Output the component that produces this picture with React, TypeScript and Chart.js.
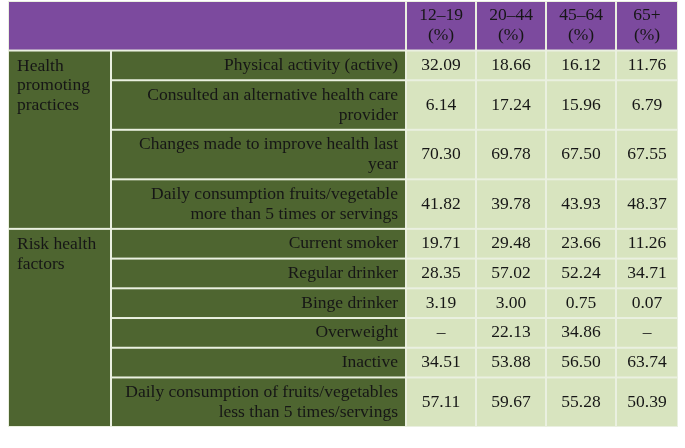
import React, { useEffect, useRef } from 'react';
import { Chart, registerables } from 'chart.js';

Chart.register(...registerables);

// ---- data ----
const ageGroups = ['12–19', '20–44', '45–64', '65+'];
const unitLabel = '(%)';
const groupLabels = ['Health\npromoting\npractices', 'Risk health\nfactors'];
const itemLabels = [
  'Physical activity (active)',
  'Consulted an alternative health care\nprovider',
  'Changes made to improve health last\nyear',
  'Daily consumption fruits/vegetable\nmore than 5 times or servings',
  'Current smoker',
  'Regular drinker',
  'Binge drinker',
  'Overweight',
  'Inactive',
  'Daily consumption of fruits/vegetables\nless than 5 times/servings',
];
const itemGroup = [0, 0, 0, 0, 1, 1, 1, 1, 1, 1];
const values12to19 = [32.09, 6.14, 70.3, 41.82, 19.71, 28.35, 3.19, null, 34.51, 57.11];
const values20to44 = [18.66, 17.24, 69.78, 39.78, 29.48, 57.02, 3.0, 22.13, 53.88, 59.67];
const values45to64 = [16.12, 15.96, 67.5, 43.93, 23.66, 52.24, 0.75, 34.86, 56.5, 55.28];
const values65plus = [11.76, 6.79, 67.55, 48.37, 11.26, 34.71, 0.07, null, 63.74, 50.39];
const seriesValues = [values12to19, values20to44, values45to64, values65plus];

// ---- layout / style ----
const colWidths = [103, 295, 70, 70, 70, 62];
const lineUnit = 20;
const rowPad = 10;
const headerLines = 2;
const COLORS = {
  header: '#7c4a9e',
  dark: '#4e6530',
  light: '#d8e4bf',
  grid: '#eaf0e0',
  text: '#161616',
};
const FONT = '17.5px "Liberation Serif", "Times New Roman", serif';

function cumulative(arr: number[]) {
  const out = [0];
  arr.forEach((v) => out.push(out[out.length - 1] + v));
  return out;
}

const rowLines = [headerLines, ...itemLabels.map((l) => l.split('\n').length)];
const rowHeights = rowLines.map((n) => n * lineUnit + rowPad);
const colEdges = cumulative(colWidths);
const rowEdges = cumulative(rowHeights);
const totalX = colEdges[colEdges.length - 1];
const totalY = rowEdges[rowEdges.length - 1];

const fmt = (v: number | null) => (v === null ? '–' : v.toFixed(2));

const tablePlugin = {
  id: 'tablePlugin',
  beforeDatasetsDraw(chart: any) {
    const { ctx } = chart;
    const xs = chart.scales.x;
    const ys = chart.scales.y;
    const px = (u: number) => xs.getPixelForValue(u);
    const py = (u: number) => ys.getPixelForValue(u);
    const lh = Math.abs(py(lineUnit) - py(0));

    ctx.save();
    // grid background
    ctx.fillStyle = COLORS.grid;
    ctx.fillRect(px(0), py(0), px(totalX) - px(0), py(totalY) - py(0));

    const cell = (c0: number, c1: number, r0: number, r1: number, color: string) => {
      const x0 = px(colEdges[c0]) + 1;
      const x1 = px(colEdges[c1]) - 1;
      const y0 = py(rowEdges[r0]) + 1;
      const y1 = py(rowEdges[r1]) - 1;
      ctx.fillStyle = color;
      ctx.fillRect(x0, y0, x1 - x0, y1 - y0);
    };

    // header
    cell(0, 2, 0, 1, COLORS.header);
    for (let c = 0; c < ageGroups.length; c++) cell(2 + c, 3 + c, 0, 1, COLORS.header);

    // group cells
    groupLabels.forEach((_, g) => {
      const rows = itemGroup.map((gg, i) => (gg === g ? i : -1)).filter((i) => i >= 0);
      const r0 = rows[0] + 1;
      const r1 = rows[rows.length - 1] + 2;
      cell(0, 1, r0, r1, COLORS.dark);
    });

    // item and value cells
    itemLabels.forEach((_, i) => {
      cell(1, 2, i + 1, i + 2, COLORS.dark);
      for (let c = 0; c < seriesValues.length; c++) cell(2 + c, 3 + c, i + 1, i + 2, COLORS.light);
    });

    // text
    ctx.font = FONT;
    ctx.fillStyle = COLORS.text;
    ctx.textBaseline = 'middle';

    const drawLines = (lines: string[], x: number, cy: number, align: CanvasTextAlign) => {
      ctx.textAlign = align;
      const start = cy - ((lines.length - 1) * lh) / 2;
      lines.forEach((t, k) => ctx.fillText(t, x, start + k * lh));
    };

    // header text
    ageGroups.forEach((a, c) => {
      const cx = (px(colEdges[2 + c]) + px(colEdges[3 + c])) / 2;
      const cy = (py(rowEdges[0]) + py(rowEdges[1])) / 2;
      drawLines([a, unitLabel], cx, cy, 'center');
    });

    // group text (top-aligned)
    groupLabels.forEach((label, g) => {
      const first = itemGroup.indexOf(g) + 1;
      const top = py(rowEdges[first]);
      ctx.textAlign = 'left';
      label.split('\n').forEach((t, k) => {
        ctx.fillText(t, px(0) + 9, top + 15.5 + k * lh);
      });
    });

    // items and values
    itemLabels.forEach((label, i) => {
      const cy = (py(rowEdges[i + 1]) + py(rowEdges[i + 2])) / 2;
      drawLines(label.split('\n'), px(colEdges[2]) - 8, cy, 'right');
      seriesValues.forEach((vals, c) => {
        const cx = (px(colEdges[2 + c]) + px(colEdges[3 + c])) / 2;
        drawLines([fmt(vals[i])], cx, cy, 'center');
      });
    });
    ctx.restore();
  },
};

export default function App() {
  const canvasRef = useRef<HTMLCanvasElement | null>(null);

  useEffect(() => {
    document.body.style.margin = '0';
    const canvas = canvasRef.current;
    if (!canvas) return;
    const chart = new Chart(canvas, {
      type: 'scatter',
      data: { datasets: [{ data: [], pointRadius: 0 }] },
      options: {
        animation: false,
        responsive: false,
        devicePixelRatio: 1,
        layout: { padding: { left: 8, top: 1, right: 7, bottom: 21 } },
        plugins: { legend: { display: false }, tooltip: { enabled: false } },
        scales: {
          x: { type: 'linear', min: 0, max: totalX, display: false },
          y: { type: 'linear', min: 0, max: totalY, reverse: true, display: false },
        },
      },
      plugins: [tablePlugin],
    });
    return () => chart.destroy();
  }, []);

  return (
    <div style={{ width: 685, height: 448 }}>
      <canvas ref={canvasRef} width={685} height={448} />
    </div>
  );
}
